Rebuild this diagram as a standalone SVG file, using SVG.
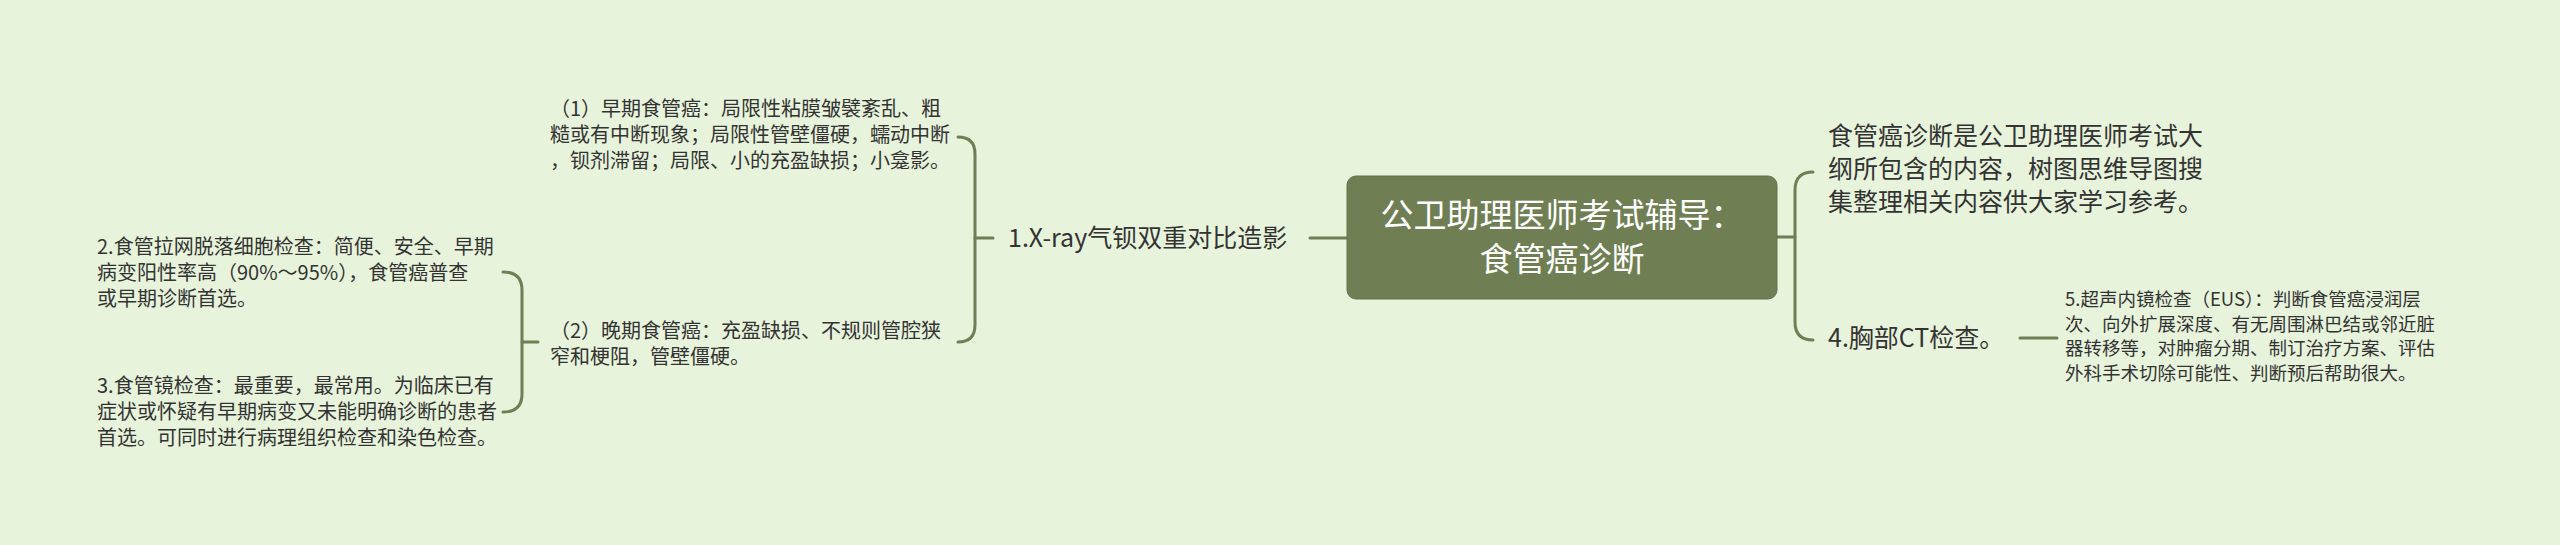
<svg xmlns="http://www.w3.org/2000/svg" width="2560" height="545" viewBox="0 0 2560 545">
<style>
.t{font-family:"Noto Sans CJK SC","Noto Sans",sans-serif;fill:#333333}
.b{font-size:25px}
.s{font-size:20px}
.x{font-size:18.5px}
.r{font-size:33px;fill:#ffffff}
.c{fill:none;stroke:#6f7f53;stroke-width:3;stroke-linecap:round}
</style>
<rect width="2560" height="545" fill="#e8f3dc"/>
<g id="connectors">
<path class="c" d="M1310,238 L1347,238"/>
<path class="c" d="M975,238 L993,238"/>
<path class="c" d="M958,137 Q975,137 975,154 L975,325 Q975,342 958,342"/>
<path class="c" d="M522,342 L538,342"/>
<path class="c" d="M503,272 Q522,272 522,290 L522,394 Q522,412 503,412"/>
<path class="c" d="M1777,237 L1795,237"/>
<path class="c" d="M1813,172 Q1795,172 1795,190 L1795,322 Q1795,340 1813,340"/>
<path class="c" d="M2020,338 L2057,338"/>
</g>
<g id="root">
<rect x="1347" y="176" width="430" height="123" rx="9" fill="#6f7f53" stroke="#65754a" stroke-width="1"/>
<text class="t r" x="1562" y="227" text-anchor="middle">公卫助理医师考试辅导：</text>
<text class="t r" x="1562" y="271" text-anchor="middle">食管癌诊断</text>
</g>
<g id="n1">
<text class="t b" x="1008" y="247">1.X-ray气钡双重对比造影</text>
</g>
<g id="n1a">
<text class="t s" x="550" y="116">（1）早期食管癌：局限性粘膜皱襞紊乱、粗</text>
<text class="t s" x="550" y="142">糙或有中断现象；局限性管壁僵硬，蠕动中断</text>
<text class="t s" x="550" y="168">，钡剂滞留；局限、小的充盈缺损；小龛影。</text>
</g>
<g id="n1b">
<text class="t s" x="550" y="338">（2）晚期食管癌：充盈缺损、不规则管腔狭</text>
<text class="t s" x="550" y="364">窄和梗阻，管壁僵硬。</text>
</g>
<g id="n2">
<text class="t s" x="97" y="254">2.食管拉网脱落细胞检查：简便、安全、早期</text>
<text class="t s" x="97" y="280">病变阳性率高（90%～95%），食管癌普查</text>
<text class="t s" x="97" y="306">或早期诊断首选。</text>
</g>
<g id="n3">
<text class="t s" x="97" y="393">3.食管镜检查：最重要，最常用。为临床已有</text>
<text class="t s" x="97" y="419">症状或怀疑有早期病变又未能明确诊断的患者</text>
<text class="t s" x="97" y="445">首选。可同时进行病理组织检查和染色检查。</text>
</g>
<g id="intro">
<text class="t b" x="1828" y="145">食管癌诊断是公卫助理医师考试大</text>
<text class="t b" x="1828" y="178">纲所包含的内容，树图思维导图搜</text>
<text class="t b" x="1828" y="211">集整理相关内容供大家学习参考。</text>
</g>
<g id="n4">
<text class="t b" x="1828" y="347">4.胸部CT检查。</text>
</g>
<g id="n5">
<text class="t x" x="2065" y="306">5.超声内镜检查（EUS）：判断食管癌浸润层</text>
<text class="t x" x="2065" y="330.5">次、向外扩展深度、有无周围淋巴结或邻近脏</text>
<text class="t x" x="2065" y="355">器转移等，对肿瘤分期、制订治疗方案、评估</text>
<text class="t x" x="2065" y="379.5">外科手术切除可能性、判断预后帮助很大。</text>
</g>
</svg>
